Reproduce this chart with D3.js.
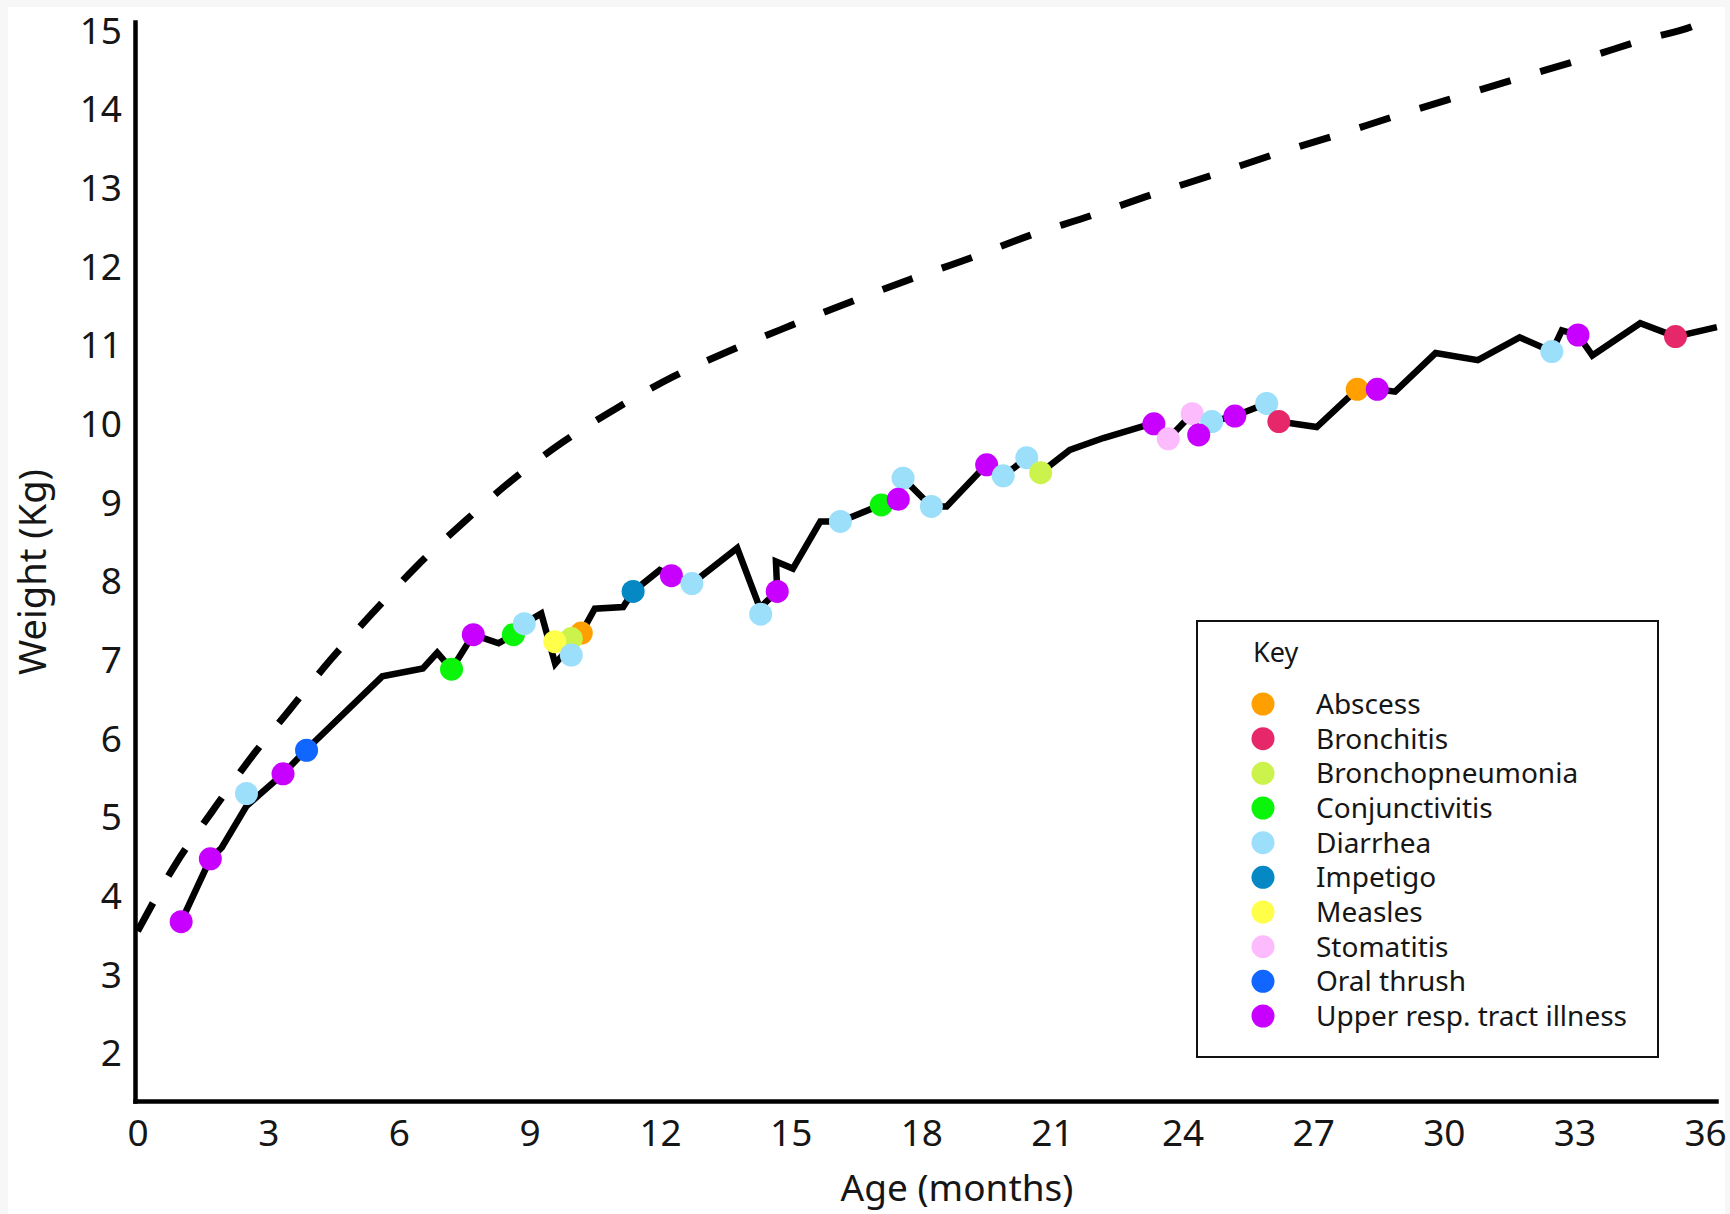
<!DOCTYPE html>
<html>
<head>
<meta charset="utf-8">
<script src="https://cdnjs.cloudflare.com/ajax/libs/d3/7.8.5/d3.min.js"></script>
<style>
  body { margin: 0; background: #f7f7f7; }
  text { font-family: "Noto Sans", "Open Sans", sans-serif; fill: #161616; }
</style>
</head>
<body>
<svg id="chart" width="1730" height="1214"></svg>
<script>
/* illness categories shown in the key */
var categories = ['Abscess', 'Bronchitis', 'Bronchopneumonia', 'Conjunctivitis', 'Diarrhea',
  'Impetigo', 'Measles', 'Stomatitis', 'Oral thrush', 'Upper resp. tract illness'];
var categoryColors = ['#ffa000', '#e6286a', '#ccf24c', '#0af50a', '#9bdffb',
  '#0588c4', '#ffff4a', '#fcbbfc', '#1166ff', '#c800ff'];

/* reference growth curve (dashed) */
var growthAge = [0, 0.87, 1.71, 2.57, 3.47, 4.43, 5.42, 6.41, 7.51, 8.59, 9.77, 11.0, 12.3, 13.64,
  15.0, 16.37, 17.75, 19.13, 20.51, 21.91, 23.32, 24.72, 26.12, 27.52, 28.92, 30.32, 31.74,
  33.13, 34.56, 35.93, 36.25];
var growthKg = [3.56, 4.41, 5.08, 5.74, 6.36, 7.01, 7.62, 8.2, 8.77, 9.29, 9.78, 10.21, 10.61, 10.95,
  11.26, 11.56, 11.85, 12.12, 12.41, 12.66, 12.93, 13.18, 13.44, 13.68, 13.93, 14.17, 14.41,
  14.64, 14.89, 15.12, 15.22];

/* measured weight of the child (solid) */
var weightAge = [1.0, 1.67, 1.93, 2.5, 3.34, 3.88, 5.62, 6.55, 6.88, 7.21, 7.71, 8.29, 8.63, 8.88,
  9.27, 9.59, 10.19, 10.5, 11.15, 11.38, 11.99, 12.26, 12.73, 13.77, 14.29, 14.69, 14.66, 15.05,
  15.68, 16.14, 17.08, 17.47, 17.58, 18.23, 18.58, 19.34, 19.5, 19.88, 20.15, 20.42, 20.74,
  21.41, 22.18, 23.1, 23.34, 23.67, 24.22, 24.37, 24.67, 25.2, 25.93, 26.21, 27.08, 28.01,
  28.47, 28.88, 29.81, 30.78, 31.74, 32.48, 32.71, 33.08, 33.41, 34.51, 35.32, 36.27];
var weightKg = [3.68, 4.48, 4.62, 5.15, 5.56, 5.87, 6.8, 6.9, 7.1, 6.89, 7.33, 7.22, 7.33, 7.47,
  7.6, 6.96, 7.35, 7.66, 7.68, 7.88, 8.15, 8.08, 7.98, 8.43, 7.67, 7.88, 8.26, 8.17,
  8.77, 8.77, 8.98, 9.05, 9.32, 8.96, 8.96, 9.4, 9.49, 9.35, 9.46, 9.58, 9.39,
  9.68, 9.83, 9.98, 10.01, 9.82, 10.14, 9.87, 10.04, 10.11, 10.27, 10.04, 9.97, 10.45,
  10.45, 10.42, 10.91, 10.82, 11.11, 10.93, 11.2, 11.14, 10.88, 11.29, 11.12, 11.24];

/* illness episodes */
var illnessAge = [1.0, 1.67, 2.5, 3.34, 3.88, 7.21, 7.71, 8.63, 8.88, 10.19, 9.96, 9.58, 9.96,
  11.38, 12.26, 12.73, 14.31, 14.69, 16.14, 17.08, 17.58, 17.47, 18.23, 19.5, 19.88, 20.42,
  20.74, 23.34, 23.67, 24.22, 24.67, 24.37, 25.2, 25.93, 26.21, 28.01, 28.47, 32.48, 33.08, 35.32];
var illnessKg = [3.68, 4.48, 5.31, 5.56, 5.86, 6.89, 7.33, 7.33, 7.47, 7.35, 7.28, 7.24, 7.07,
  7.88, 8.08, 7.98, 7.59, 7.88, 8.77, 8.98, 9.32, 9.05, 8.96, 9.49, 9.35, 9.58,
  9.39, 10.01, 9.82, 10.14, 10.04, 9.87, 10.11, 10.27, 10.04, 10.45, 10.45, 10.93, 11.14, 11.12];
var illnessType = ['Upper resp. tract illness', 'Upper resp. tract illness', 'Diarrhea',
  'Upper resp. tract illness', 'Oral thrush', 'Conjunctivitis', 'Upper resp. tract illness',
  'Conjunctivitis', 'Diarrhea', 'Abscess', 'Bronchopneumonia', 'Measles', 'Diarrhea',
  'Impetigo', 'Upper resp. tract illness', 'Diarrhea', 'Diarrhea', 'Upper resp. tract illness',
  'Diarrhea', 'Conjunctivitis', 'Diarrhea', 'Upper resp. tract illness', 'Diarrhea',
  'Upper resp. tract illness', 'Diarrhea', 'Diarrhea', 'Bronchopneumonia',
  'Upper resp. tract illness', 'Stomatitis', 'Stomatitis', 'Diarrhea', 'Upper resp. tract illness',
  'Upper resp. tract illness', 'Diarrhea', 'Bronchitis', 'Abscess', 'Upper resp. tract illness',
  'Diarrhea', 'Upper resp. tract illness', 'Bronchitis'];

var xTicks = [0, 3, 6, 9, 12, 15, 18, 21, 24, 27, 30, 33, 36];
var yTicks = [2, 3, 4, 5, 6, 7, 8, 9, 10, 11, 12, 13, 14, 15];

var svg = d3.select('#chart');

/* white panel */
svg.append('rect')
  .attr('x', 8).attr('y', 7)
  .attr('width', 1717).attr('height', 1207)
  .style('fill', '#fff');

var x = d3.scaleLinear().domain([-0.06, 36.25]).range([135, 1716]);
var y = d3.scaleLinear().domain([1.4, 15.12]).range([1101, 22]);

var xAxis = d3.axisBottom(x).tickValues(xTicks).tickSize(0).tickPadding(19);
var yAxis = d3.axisLeft(y).tickValues(yTicks).tickSize(0).tickPadding(13);

var gx = svg.append('g').attr('transform', 'translate(0,1101)').call(xAxis);
var gy = svg.append('g').attr('transform', 'translate(135,0)').call(yAxis);

[gx, gy].forEach(function(g) {
  g.select('.domain')
    .style('stroke', '#000')
    .style('stroke-width', 4.5)
    .style('stroke-linecap', 'square');
  g.selectAll('text')
    .style('font-family', '"Noto Sans", sans-serif')
    .style('font-size', '37px')
    .style('fill', '#161616');
});

svg.append('text')
  .attr('x', 957).attr('y', 1201)
  .attr('text-anchor', 'middle')
  .style('font-size', '37px')
  .text('Age (months)');

svg.append('text')
  .attr('transform', 'translate(46,572) rotate(-90)')
  .attr('text-anchor', 'middle')
  .style('font-size', '38px')
  .text('Weight (Kg)');

/* dashed reference curve */
var growthLine = d3.line()
  .x(function(d, i) { return x(growthAge[i]); })
  .y(function(d) { return y(d); })
  .curve(d3.curveMonotoneX);

svg.append('path')
  .attr('d', growthLine(growthKg))
  .style('fill', 'none')
  .style('stroke', '#000')
  .style('stroke-width', 7)
  .style('stroke-dasharray', '32,31');

/* measured weight */
var weightLine = d3.line()
  .x(function(d, i) { return x(weightAge[i]); })
  .y(function(d) { return y(d); });

svg.append('path')
  .attr('d', weightLine(weightKg))
  .style('fill', 'none')
  .style('stroke', '#000')
  .style('stroke-width', 6.5)
  .style('stroke-linejoin', 'miter');

var color = d3.scaleOrdinal(categories, categoryColors);

svg.append('g').selectAll('circle')
  .data(illnessKg)
  .enter().append('circle')
  .attr('cx', function(d, i) { return x(illnessAge[i]); })
  .attr('cy', function(d) { return y(d); })
  .attr('r', 11.5)
  .style('fill', function(d, i) { return color(illnessType[i]); });

/* key */
var key = svg.append('g');
key.append('rect')
  .attr('x', 1197).attr('y', 621)
  .attr('width', 461).attr('height', 436)
  .style('fill', '#fff')
  .style('stroke', '#111')
  .style('stroke-width', 2);

key.append('text')
  .attr('x', 1253).attr('y', 662)
  .style('font-size', '27px')
  .text('Key');

var keyY = d3.scalePoint().domain(categories).range([704, 1016]);

var item = key.selectAll('.item')
  .data(categories)
  .enter().append('g')
  .attr('class', 'item')
  .attr('transform', function(d) { return 'translate(0,' + keyY(d) + ')'; });

item.append('circle')
  .attr('cx', 1263).attr('cy', 0).attr('r', 11.5)
  .style('fill', function(d) { return color(d); });

item.append('text')
  .attr('x', 1316).attr('y', 10)
  .style('font-size', '28px')
  .text(function(d) { return d; });
</script>
</body>
</html>
